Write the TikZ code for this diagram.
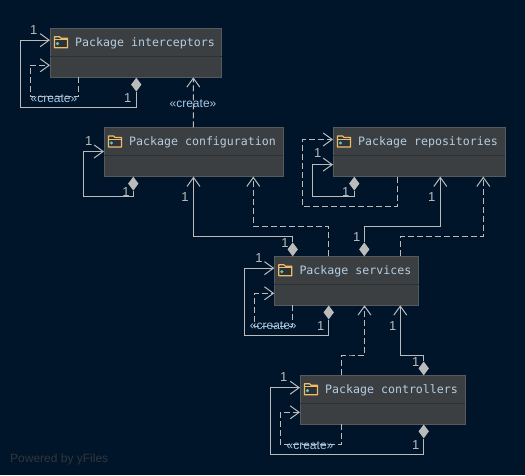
\documentclass[tikz,border=0pt]{standalone}
\usepackage{fontspec}
\setmainfont{Liberation Sans}
\setmonofont{DejaVu Sans Mono}
\usetikzlibrary{arrows.meta}
\usetikzlibrary{positioning}
\usetikzlibrary{shapes.geometric}
\definecolor{bgcol}{HTML}{001529}
\definecolor{pkgfill}{HTML}{3C3F41}
\definecolor{pkgedge}{HTML}{565A5C}
\definecolor{pkgline}{HTML}{2B3238}
\definecolor{linecol}{HTML}{BBBBBB}
\definecolor{titlecol}{HTML}{B4CDE2}
\definecolor{createcol}{HTML}{A9C8E4}
\definecolor{foldercol}{HTML}{F0BC68}
\definecolor{dotcol}{HTML}{5FC8C0}
\definecolor{yfilescol}{HTML}{30363C}
\tikzset{
  hdr/.style={fill=pkgfill,inner sep=0pt,outer sep=0pt,minimum height=28.3pt},
  body/.style={fill=pkgfill,inner sep=0pt,outer sep=0pt,minimum height=21pt},
  title/.style={text=titlecol,inner sep=0pt,font=\ttfamily\fontsize{11.6}{14}\selectfont},
  edge/.style={draw=pkgedge,line width=1pt},
  divider/.style={draw=pkgline,line width=1pt},
  assoc/.style={draw=linecol,line width=1pt,-{Straight Barb[length=9pt,width=13pt]}},
  dep/.style={assoc,dash pattern=on 6pt off 3pt},
  comp/.style={diamond,fill=linecol,inner sep=0pt,minimum width=10.5pt,minimum height=14pt},
  one/.style={text=linecol,inner sep=0pt,font=\fontsize{13}{14}\selectfont},
  create/.style={text=createcol,inner sep=0pt,font=\fontsize{12}{14}\selectfont},
  folder/.pic={
    \fill[pkgline] (-6.5,-4) rectangle (6.5,5.5);
    \draw[foldercol,line width=1.2pt,line join=round] (-6.5,-5.5) -- (-1.5,-5.5) -- (0,-4) -- (6.5,-4) -- (6.5,5.5) -- (-6.5,5.5) -- cycle;
    \draw[foldercol,line width=.8pt] (-6.5,-2.5) -- (6.5,-2.5);
    \fill[dotcol] (-3.5,1.5) circle (1.7);
  }
}
\begin{document}
\begin{tikzpicture}[x=1pt,y=-1pt]
  \fill[bgcol] (0,0) rectangle (525,475);
  \useasboundingbox (0,0) rectangle (525,475);
  % packages
  \node[hdr,minimum width=171.7pt] (hdrInter) at (135.85,42.15) {};
  \node[body,minimum width=171.7pt,below=0pt of hdrInter] (bodyInter) {};
  \node[hdr,minimum width=179pt] (hdrCfg) at (193.5,141.45) {};
  \node[body,minimum width=179pt,below=0pt of hdrCfg] (bodyCfg) {};
  \node[hdr,minimum width=172pt] (hdrRepo) at (419,141.45) {};
  \node[body,minimum width=172pt,below=0pt of hdrRepo] (bodyRepo) {};
  \node[hdr,minimum width=144.4pt] (hdrSvc) at (346.5,270.15) {};
  \node[body,minimum width=144.4pt,below=0pt of hdrSvc] (bodySvc) {};
  \node[hdr,minimum width=165pt] (hdrCtl) at (382.5,389.15) {};
  \node[body,minimum width=165pt,below=0pt of hdrCtl] (bodyCtl) {};
  \foreach \pkg in {Inter,Cfg,Repo,Svc,Ctl}{
    \draw[edge] (hdr\pkg.north west) rectangle (body\pkg.south east);
    \draw[divider] (hdr\pkg.south west) -- (hdr\pkg.south east);
    \pic at ([xshift=11pt]hdr\pkg.west) {folder};
  }
  \node[title,right=25pt of hdrInter.west,yshift=-.7pt] (tInter) {Package interceptors};
  \node[title,right=25pt of hdrCfg.west,yshift=-.7pt] (tCfg) {Package configuration};
  \node[title,right=25pt of hdrRepo.west,yshift=-.7pt] (tRepo) {Package repositories};
  \node[title,right=25pt of hdrSvc.west,yshift=-.7pt] (tSvc) {Package services};
  \node[title,right=25pt of hdrCtl.west,yshift=-.7pt] (tCtl) {Package controllers};
  % diamonds
  \node[comp] (dInter) at (136.3,84.6) {};
  \node[comp] (dCfg) at (133.3,183.6) {};
  \node[comp] (dRepo) at (354.3,183.6) {};
  \node[comp] (dSvcCfg) at (292.7,249.4) {};
  \node[comp] (dSvcRepo) at (364.3,249.4) {};
  \node[comp] (dSvc) at (328.7,312.4) {};
  \node[comp] (dCtlSvc) at (423.7,368.4) {};
  \node[comp] (dCtl) at (423.7,431.4) {};
  % solid connectors
  \draw[assoc] (dInter.south) |- (20.3,107.3) |- ([yshift=2pt]hdrInter.west);
  \draw[assoc] (dCfg.south) |- (83,196.3) |- ([yshift=-10pt]hdrCfg.west);
  \draw[assoc] (dRepo.south) |- (312.3,196.3) |- ([yshift=1.5pt]bodyRepo.west);
  \draw[assoc] (dSvcCfg.north) |- (250,236.3) -| (bodyCfg.south);
  \draw[assoc] (dSvcRepo.north) |- (400,226.3) -| ([xshift=21.3pt]bodyRepo.south);
  \draw[assoc] (dSvc.south) |- (244.3,335.3) |- ([yshift=2pt]hdrSvc.west);
  \draw[assoc] (dCtlSvc.north) |- (410,355.3) -| ([xshift=53.8pt]bodySvc.south);
  \draw[assoc] (dCtl.south) |- (270.3,454.3) |- ([yshift=1.5pt]hdrCtl.west);
  % dashed connectors
  \draw[dep] ([xshift=-57.2pt]bodyInter.south) |- (30.3,96.7) |- ([yshift=1.5pt]bodyInter.west);
  \draw[dep] ([xshift=-.2pt]hdrCfg.north) -- ([xshift=57.5pt]bodyInter.south);
  \draw[dep] ([xshift=-21.7pt]bodyRepo.south) |- (302.3,206.3) |- ([yshift=2pt]hdrRepo.west);
  \draw[dep] ([xshift=-18.2pt]hdrSvc.north) |- (300,226.3) -| ([xshift=59.8pt]bodyCfg.south);
  \draw[dep] ([xshift=53.8pt]hdrSvc.north) |- (450,236.3) -| ([xshift=64.3pt]bodyRepo.south);
  \draw[dep] ([xshift=-54.2pt]bodySvc.south) |- (254.3,326) |- ([yshift=1.5pt]bodySvc.west);
  \draw[dep] ([xshift=-40.8pt]hdrCtl.north) |- (350,355) -| ([xshift=18pt]bodySvc.south);
  \draw[dep] ([xshift=-40.8pt]bodyCtl.south) |- (280.3,444.3) |- ([yshift=1.5pt]bodyCtl.west);
  % multiplicities
  \node[one] (o1) at (33.7,30) {1};
  \node[one] (o2) at (127.7,97.7) {1};
  \node[one] (o3) at (88.7,140.7) {1};
  \node[one] (o4) at (126,191.7) {1};
  \node[one] (o5) at (185,196.7) {1};
  \node[one] (o6) at (317.7,153.3) {1};
  \node[one] (o7) at (345.7,191.7) {1};
  \node[one] (o8) at (431.7,196.7) {1};
  \node[one] (o9) at (285,242.7) {1};
  \node[one] (o10) at (356.7,237.3) {1};
  \node[one] (o11) at (259,257.7) {1};
  \node[one] (o12) at (320.7,325.7) {1};
  \node[one] (o13) at (392.7,325.7) {1};
  \node[one] (o14) at (415.7,361.7) {1};
  \node[one] (o15) at (283.7,376.7) {1};
  \node[one] (o16) at (415.7,444.7) {1};
  % stereotypes
  \node[create] (c1) at (54,98.3) {«create»};
  \node[create] (c2) at (193,103.3) {«create»};
  \node[create] (c3) at (273.3,326) {«create»};
  \node[create] (c4) at (310,445.3) {«create»};
  \node[text=yfilescol,inner sep=0pt,anchor=west,font=\fontsize{12}{14}\selectfont] (yfiles) at (10,459) {Powered by yFiles};
\end{tikzpicture}
\end{document}
